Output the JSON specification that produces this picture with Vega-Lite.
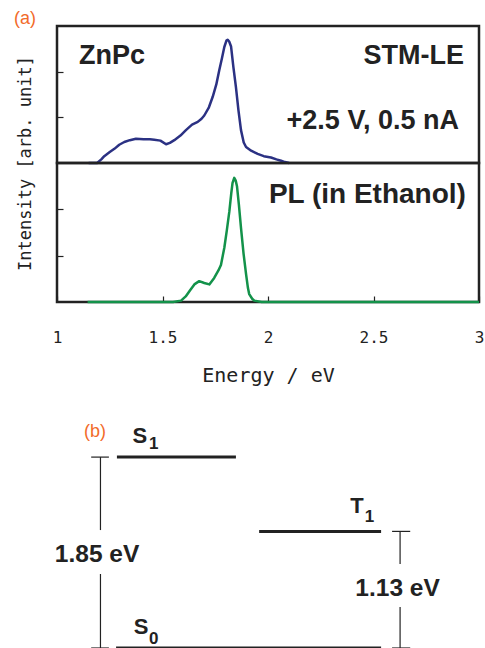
{
  "$schema": "https://vega.github.io/schema/vega-lite/v6.json",
  "padding": {"left": 12, "top": 8, "right": 0, "bottom": 0},
  "background": "white",
  "spacing": 0,
  "bounds": "flush",
  "resolve": {"scale": {"x": "independent", "y": "independent"}},
  "config": {
    "view": {"stroke": "#222", "strokeWidth": 2.5},
    "font": "Liberation Sans",
    "text": {"color": "#222"}
  },
  "datasets": {
    "stm": [
      {"E": 1.15, "I": 0}, {"E": 1.19, "I": 0}, {"E": 1.21, "I": 0.08}, {"E": 1.224, "I": 0.15},
      {"E": 1.25, "I": 0.24}, {"E": 1.272, "I": 0.31}, {"E": 1.295, "I": 0.4}, {"E": 1.319, "I": 0.46},
      {"E": 1.345, "I": 0.5}, {"E": 1.374, "I": 0.53}, {"E": 1.41, "I": 0.52}, {"E": 1.44, "I": 0.52},
      {"E": 1.461, "I": 0.51}, {"E": 1.49, "I": 0.49}, {"E": 1.517, "I": 0.41}, {"E": 1.535, "I": 0.44},
      {"E": 1.556, "I": 0.5}, {"E": 1.585, "I": 0.6}, {"E": 1.611, "I": 0.72}, {"E": 1.64, "I": 0.84},
      {"E": 1.667, "I": 0.9}, {"E": 1.685, "I": 0.97}, {"E": 1.698, "I": 1.04}, {"E": 1.72, "I": 1.22},
      {"E": 1.738, "I": 1.45}, {"E": 1.755, "I": 1.72}, {"E": 1.769, "I": 2.03}, {"E": 1.782, "I": 2.3},
      {"E": 1.793, "I": 2.54}, {"E": 1.803, "I": 2.68}, {"E": 1.809, "I": 2.7}, {"E": 1.816, "I": 2.66},
      {"E": 1.825, "I": 2.55}, {"E": 1.836, "I": 2.1}, {"E": 1.848, "I": 1.66}, {"E": 1.86, "I": 1.15},
      {"E": 1.872, "I": 0.72}, {"E": 1.885, "I": 0.45}, {"E": 1.896, "I": 0.35}, {"E": 1.92, "I": 0.27},
      {"E": 1.951, "I": 0.2}, {"E": 1.98, "I": 0.15}, {"E": 2.014, "I": 0.12}, {"E": 2.04, "I": 0.08},
      {"E": 2.062, "I": 0.05}, {"E": 2.08, "I": 0.02}, {"E": 2.1, "I": 0}
    ],
    "pl": [
      {"E": 1.145, "I": 0}, {"E": 1.55, "I": 0}, {"E": 1.588, "I": 0.03}, {"E": 1.61, "I": 0.12},
      {"E": 1.63, "I": 0.25}, {"E": 1.651, "I": 0.38}, {"E": 1.674, "I": 0.45}, {"E": 1.698, "I": 0.41},
      {"E": 1.722, "I": 0.38}, {"E": 1.745, "I": 0.52}, {"E": 1.765, "I": 0.68}, {"E": 1.777, "I": 0.8},
      {"E": 1.793, "I": 1.17}, {"E": 1.805, "I": 1.55}, {"E": 1.817, "I": 1.96}, {"E": 1.826, "I": 2.35},
      {"E": 1.832, "I": 2.57}, {"E": 1.84, "I": 2.68}, {"E": 1.847, "I": 2.62}, {"E": 1.853, "I": 2.5},
      {"E": 1.862, "I": 2.1}, {"E": 1.872, "I": 1.6}, {"E": 1.884, "I": 1.05}, {"E": 1.896, "I": 0.6},
      {"E": 1.905, "I": 0.3}, {"E": 1.911, "I": 0.17}, {"E": 1.925, "I": 0.07}, {"E": 1.935, "I": 0.03},
      {"E": 1.97, "I": 0}, {"E": 3.0, "I": 0}
    ],
    "annLeft": [{"label": "ZnPc", "E": 1.104, "I": 2.17}],
    "annRight": [
      {"label": "STM-LE", "E": 2.929, "I": 2.17},
      {"label": "+2.5 V, 0.5 nA", "E": 2.905, "I": 0.74}
    ],
    "annPL": [{"label": "PL (in Ethanol)", "E": 2.938, "I": 2.14}],
    "levels": [
      {"state": "S1", "x1": 14.2, "x2": 42.4, "e": 1.85},
      {"state": "T1", "x1": 47.9, "x2": 76.8, "e": 1.13},
      {"state": "S0", "x1": 14.0, "x2": 76.8, "e": 0}
    ],
    "bars": [
      {"x": 10.3, "e1": 1.143, "e2": 1.85},
      {"x": 10.3, "e1": 0, "e2": 0.717},
      {"x": 81.3, "e1": 0.814, "e2": 1.13},
      {"x": 81.3, "e1": 0, "e2": 0.397}
    ],
    "caps": [
      {"x1": 8.1, "x2": 12.3, "e": 1.85},
      {"x1": 8.1, "x2": 12.3, "e": 0},
      {"x1": 79.4, "x2": 83.7, "e": 1.13},
      {"x1": 79.4, "x2": 83.7, "e": 0}
    ],
    "gaps": [
      {"label": "1.85 eV", "x": 9.5, "e": 0.83},
      {"label": "1.13 eV", "x": 80.7, "e": 0.5}
    ],
    "names": [
      {"label": "S", "x": 17.9, "e": 1.99},
      {"label": "T", "x": 69.5, "e": 1.31},
      {"label": "S", "x": 18.2, "e": 0.14}
    ],
    "subs": [
      {"label": "1", "x": 21.8, "e": 1.93},
      {"label": "1", "x": 72.9, "e": 1.22},
      {"label": "0", "x": 21.8, "e": 0.04}
    ],
    "tag": [{"label": "(b)", "x": 6.4, "e": 2.04}]
  },
  "vconcat": [
    {
      "width": 422,
      "height": 137,
      "title": {
        "text": "(a)", "anchor": "start", "frame": "group", "dx": -43, "dy": 17, "offset": 1,
        "baseline": "alphabetic", "fontSize": 18, "fontWeight": "normal",
        "color": "#f26b2a", "font": "Liberation Sans"
      },
      "layer": [
        {
          "data": {"name": "stm"},
          "mark": {"type": "line", "color": "#2b3183", "strokeWidth": 2.5, "strokeJoin": "round"},
          "encoding": {
            "x": {"field": "E", "type": "quantitative", "scale": {"domain": [1, 3], "nice": false}, "axis": null},
            "y": {
              "field": "I", "type": "quantitative", "scale": {"domain": [0, 3], "nice": false},
              "axis": {
                "values": [1, 2], "labels": false, "domain": false, "grid": false,
                "tickSize": -6, "tickColor": "#222", "tickWidth": 1.2,
                "title": "Intensity [arb. unit]", "titleFont": "DejaVu Sans Mono",
                "titleFontSize": 17, "titleFontWeight": "normal", "titleColor": "#222",
                "titleAngle": -90, "titleX": -32, "titleY": 137,
                "titleAlign": "center", "titleBaseline": "middle"
              }
            }
          }
        },
        {
          "data": {"name": "annLeft"},
          "mark": {"type": "text", "align": "left", "baseline": "alphabetic", "fontSize": 27, "fontWeight": "bold"},
          "encoding": {
            "x": {"field": "E", "type": "quantitative"},
            "y": {"field": "I", "type": "quantitative"},
            "text": {"field": "label"}
          }
        },
        {
          "data": {"name": "annRight"},
          "mark": {"type": "text", "align": "right", "baseline": "alphabetic", "fontSize": 27, "fontWeight": "bold"},
          "encoding": {
            "x": {"field": "E", "type": "quantitative"},
            "y": {"field": "I", "type": "quantitative"},
            "text": {"field": "label"}
          }
        }
      ]
    },
    {
      "width": 422,
      "height": 139,
      "layer": [
        {
          "data": {"name": "pl"},
          "mark": {"type": "line", "color": "#13924a", "strokeWidth": 2.5, "strokeJoin": "round"},
          "encoding": {
            "x": {
              "field": "E", "type": "quantitative", "scale": {"domain": [1, 3], "nice": false},
              "axis": {
                "values": [1, 1.5, 2, 2.5, 3], "format": "~g", "domain": false, "grid": false,
                "tickSize": -6, "tickColor": "#222", "tickWidth": 1.2,
                "labelFont": "DejaVu Sans Mono", "labelFontSize": 16, "labelColor": "#222",
                "labelPadding": 33, "labelFlush": false, "labelOverlap": false,
                "title": "Energy / eV", "titleFont": "DejaVu Sans Mono", "titleFontSize": 20,
                "titleFontWeight": "normal", "titleColor": "#222",
                "titleY": 79, "titleBaseline": "alphabetic"
              }
            },
            "y": {
              "field": "I", "type": "quantitative", "scale": {"domain": [0, 3], "nice": false},
              "axis": {
                "values": [1, 2], "labels": false, "domain": false, "grid": false,
                "tickSize": -6, "tickColor": "#222", "tickWidth": 1.2, "title": null
              }
            }
          }
        },
        {
          "data": {"name": "annPL"},
          "mark": {"type": "text", "align": "right", "baseline": "alphabetic", "fontSize": 28, "fontWeight": "bold"},
          "encoding": {
            "x": {"field": "E", "type": "quantitative"},
            "y": {"field": "I", "type": "quantitative"},
            "text": {"field": "label"}
          }
        }
      ]
    },
    {
      "width": 422,
      "height": 346,
      "view": {"stroke": null},
      "layer": [
        {
          "data": {"name": "levels"},
          "mark": {"type": "rule", "color": "#222", "strokeWidth": 3},
          "encoding": {
            "x": {"field": "x1", "type": "quantitative", "scale": {"domain": [0, 100], "nice": false, "zero": false}, "axis": null},
            "x2": {"field": "x2"},
            "y": {"field": "e", "type": "quantitative", "scale": {"domain": [0, 3.353], "nice": false}, "axis": null}
          }
        },
        {
          "data": {"name": "bars"},
          "mark": {"type": "rule", "color": "#222", "strokeWidth": 1.2},
          "encoding": {
            "x": {"field": "x", "type": "quantitative"},
            "y": {"field": "e1", "type": "quantitative"},
            "y2": {"field": "e2"}
          }
        },
        {
          "data": {"name": "caps"},
          "mark": {"type": "rule", "color": "#222", "strokeWidth": 1.2},
          "encoding": {
            "x": {"field": "x1", "type": "quantitative"},
            "x2": {"field": "x2"},
            "y": {"field": "e", "type": "quantitative"}
          }
        },
        {
          "data": {"name": "gaps"},
          "mark": {"type": "text", "align": "center", "baseline": "alphabetic", "fontSize": 24.5, "fontWeight": "bold"},
          "encoding": {
            "x": {"field": "x", "type": "quantitative"},
            "y": {"field": "e", "type": "quantitative"},
            "text": {"field": "label"}
          }
        },
        {
          "data": {"name": "names"},
          "mark": {"type": "text", "align": "left", "baseline": "alphabetic", "fontSize": 22, "fontWeight": "bold"},
          "encoding": {
            "x": {"field": "x", "type": "quantitative"},
            "y": {"field": "e", "type": "quantitative"},
            "text": {"field": "label"}
          }
        },
        {
          "data": {"name": "subs"},
          "mark": {"type": "text", "align": "left", "baseline": "alphabetic", "fontSize": 17, "fontWeight": "bold"},
          "encoding": {
            "x": {"field": "x", "type": "quantitative"},
            "y": {"field": "e", "type": "quantitative"},
            "text": {"field": "label"}
          }
        },
        {
          "data": {"name": "tag"},
          "mark": {"type": "text", "align": "left", "baseline": "alphabetic", "fontSize": 18, "color": "#f26b2a"},
          "encoding": {
            "x": {"field": "x", "type": "quantitative"},
            "y": {"field": "e", "type": "quantitative"},
            "text": {"field": "label"}
          }
        }
      ]
    }
  ]
}
